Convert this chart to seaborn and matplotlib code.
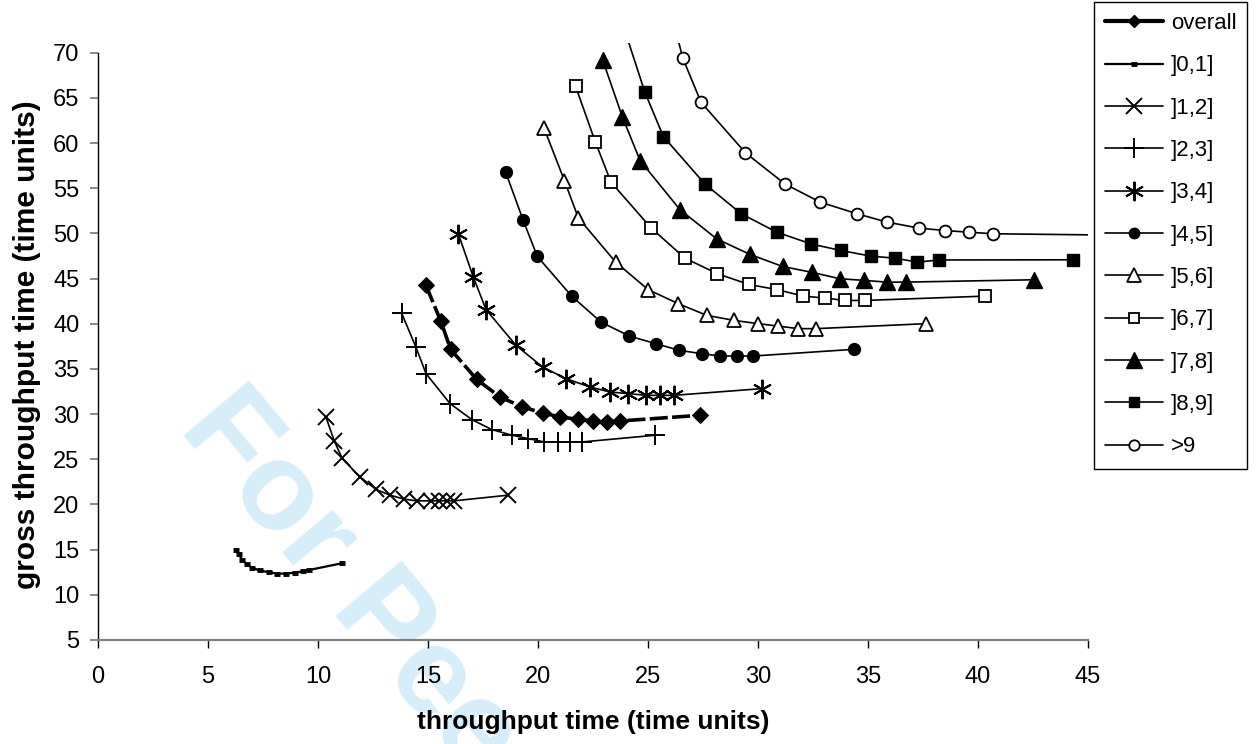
import matplotlib
matplotlib.use("Agg")
import matplotlib.pyplot as plt
from matplotlib.lines import Line2D
import seaborn as sns
import pandas as pd

# ---------------- data ----------------
series_names = ["overall", "]0,1]", "]1,2]", "]2,3]", "]3,4]", "]4,5]",
                "]5,6]", "]6,7]", "]7,8]", "]8,9]", ">9"]

overall_x = [14.91, 15.58, 16.03, 17.21, 18.27, 19.29, 20.21, 21.01, 21.80, 22.51, 23.12, 23.73, 27.36]
overall_y = [44.24, 40.30, 37.17, 33.85, 31.90, 30.79, 30.13, 29.68, 29.43, 29.24, 29.13, 29.24, 29.87]

r01_x = [6.25, 6.40, 6.55, 6.75, 7.00, 7.35, 7.75, 8.15, 8.55, 8.95, 9.30, 9.60, 11.10]
r01_y = [15.00, 14.50, 13.90, 13.40, 13.00, 12.70, 12.50, 12.35, 12.35, 12.45, 12.60, 12.75, 13.50]

r12_x = [10.36, 10.74, 11.10, 11.91, 12.64, 13.27, 13.92, 14.49, 15.12, 15.51, 15.85, 16.18, 18.65]
r12_y = [29.68, 27.03, 25.09, 23.05, 21.66, 21.03, 20.59, 20.40, 20.40, 20.40, 20.40, 20.40, 21.03]

r23_x = [13.80, 14.45, 14.91, 16.00, 16.99, 17.90, 18.83, 19.53, 20.29, 20.92, 21.47, 22.01, 25.32]
r23_y = [41.18, 37.42, 34.48, 31.17, 29.40, 28.29, 27.66, 27.30, 26.92, 26.92, 26.92, 26.92, 27.66]

r34_x = [16.38, 17.06, 17.64, 19.00, 20.21, 21.27, 22.36, 23.27, 24.10, 24.91, 25.55, 26.18, 30.17]
r34_y = [49.96, 45.16, 41.56, 37.61, 35.21, 33.93, 33.00, 32.45, 32.27, 32.08, 32.08, 32.08, 32.82]

r45_x = [18.53, 19.33, 19.97, 21.53, 22.86, 24.15, 25.35, 26.42, 27.44, 28.27, 29.06, 29.79, 34.36]
r45_y = [56.77, 51.43, 47.45, 43.06, 40.19, 38.64, 37.80, 37.06, 36.69, 36.43, 36.43, 36.43, 37.17]

r56_x = [20.27, 21.20, 21.83, 23.53, 25.01, 26.38, 27.67, 28.92, 30.01, 30.92, 31.83, 32.64, 37.64]
r56_y = [61.68, 55.85, 51.73, 46.82, 43.77, 42.22, 40.93, 40.37, 40.01, 39.74, 39.46, 39.46, 40.01]

r67_x = [21.71, 22.60, 23.32, 25.15, 26.68, 28.15, 29.59, 30.88, 32.06, 33.05, 33.95, 34.86, 40.32]
r67_y = [66.27, 60.16, 55.66, 50.58, 47.26, 45.54, 44.35, 43.77, 43.06, 42.84, 42.58, 42.58, 43.06]

r78_x = [22.94, 23.83, 24.64, 26.45, 28.12, 29.64, 31.12, 32.47, 33.73, 34.82, 35.85, 36.73, 42.55]
r78_y = [69.19, 62.93, 58.06, 52.64, 49.40, 47.67, 46.34, 45.68, 44.98, 44.80, 44.61, 44.61, 44.87]

r89_x = [23.90, 24.86, 25.70, 27.59, 29.24, 30.86, 32.42, 33.77, 35.14, 36.23, 37.24, 38.23, 44.33]
r89_y = [72.80, 65.61, 60.71, 55.46, 52.17, 50.13, 48.83, 48.11, 47.48, 47.26, 46.82, 47.06, 47.08]

gt9_x = [26.10, 26.58, 27.41, 29.43, 31.23, 32.84, 34.51, 35.85, 37.33, 38.50, 39.59, 40.70, 46.50]
gt9_y = [74.00, 69.41, 64.51, 58.92, 55.46, 53.45, 52.17, 51.26, 50.58, 50.32, 50.13, 49.96, 49.80]

x_ticks = [0, 5, 10, 15, 20, 25, 30, 35, 40, 45]
y_ticks = [5, 10, 15, 20, 25, 30, 35, 40, 45, 50, 55, 60, 65, 70]

all_x = [overall_x, r01_x, r12_x, r23_x, r34_x, r45_x, r56_x, r67_x, r78_x, r89_x, gt9_x]
all_y = [overall_y, r01_y, r12_y, r23_y, r34_y, r45_y, r56_y, r67_y, r78_y, r89_y, gt9_y]

# ---------------- styles ----------------
asterisk = (6, 2, 0)
styles = {
    "overall": dict(marker="D", ms=8.5, mfc="black", mec="black", lw=2.6, dashes=(5, 1.2)),
    "]0,1]": dict(marker="_", ms=5, mfc="black", mec="black", mew=3.5, lw=1.6),
    "]1,2]": dict(marker="x", ms=12, mfc="black", mec="black", mew=1.4, lw=1.2),
    "]2,3]": dict(marker="+", ms=14, mfc="black", mec="black", mew=1.4, lw=1.2),
    "]3,4]": dict(marker=asterisk, ms=14, mfc="black", mec="black", mew=1.4, lw=1.2),
    "]4,5]": dict(marker="o", ms=8.5, mfc="black", mec="black", mew=1.0, lw=1.2),
    "]5,6]": dict(marker="^", ms=10, mfc="white", mec="black", mew=1.3, lw=1.2),
    "]6,7]": dict(marker="s", ms=8.5, mfc="white", mec="black", mew=1.3, lw=1.2),
    "]7,8]": dict(marker="^", ms=11, mfc="black", mec="black", mew=1.0, lw=1.2),
    "]8,9]": dict(marker="s", ms=8.5, mfc="black", mec="black", mew=1.0, lw=1.2),
    ">9": dict(marker="o", ms=8.5, mfc="white", mec="black", mew=1.3, lw=1.2),
}

sns.set_theme(style="white")
plt.rcParams["font.family"] = ["Liberation Sans", "DejaVu Sans"]
plt.rcParams["text.color"] = "black"
plt.rcParams["axes.labelcolor"] = "black"
plt.rcParams["xtick.color"] = "black"
plt.rcParams["ytick.color"] = "black"

W, H = 1257, 744
fig = plt.figure(figsize=(W / 100, H / 100), dpi=100)
fig.patch.set_facecolor("white")

# axes position (pixel based)
x0_px, x45_px = 98, 1088
y5_px, y70_px = 640, 52.7
ytop = 71.1
ytop_px = y70_px - (ytop - 70) * (y5_px - y70_px) / 65
ax = fig.add_axes([x0_px / W, 1 - y5_px / H, (x45_px - x0_px) / W, (y5_px - ytop_px) / H])
ax.set_facecolor("none")

# watermark
fig.text(178 / W, 1 - 428 / H, "For Peer Review", rotation=-50, rotation_mode="anchor",
         ha="left", va="baseline", fontsize=90, fontweight="bold", color="#d6eefa",
         zorder=-5)

for name, xs, ys in zip(series_names, all_x, all_y):
    st = dict(styles[name])
    dashes = st.pop("dashes", None)
    df = pd.DataFrame({"x": xs, "y": ys})
    sns.lineplot(data=df, x="x", y="y", sort=False, estimator=None, ax=ax,
                 color="black", label=name, legend=False, **st)
    if dashes is not None:
        ax.lines[-1].set_dashes(dashes)

ax.set_xlim(0, 45)
ax.set_ylim(5, ytop)
ax.set_xticks(x_ticks)
ax.set_yticks(y_ticks)
ax.set_xticklabels([str(v) for v in x_ticks])
ax.set_yticklabels([str(v) for v in y_ticks])
ax.grid(False)

for s in ["top", "right"]:
    ax.spines[s].set_visible(False)
ax.spines["left"].set_bounds(5, 70)
ax.spines["left"].set_color("black")
ax.spines["left"].set_linewidth(1.0)
ax.spines["bottom"].set_color("#808080")
ax.spines["bottom"].set_linewidth(1.6)

ax.tick_params(axis="x", which="major", bottom=True, direction="out", length=5.5, width=1.0,
               color="black", labelsize=17, pad=13, labelcolor="black")
ax.tick_params(axis="y", which="major", left=True, direction="out", length=5.5, width=1.3,
               color="#808080", labelsize=17, pad=8, labelcolor="black")

ax.set_xlabel("throughput time (time units)", fontsize=19, fontweight="bold", color="black")
ax.set_ylabel("gross throughput time (time units)", fontsize=21.5, fontweight="bold", color="black")
ax.xaxis.set_label_coords(((418 + 768) / 2 - x0_px) / (x45_px - x0_px), -(722 - y5_px) / (y5_px - ytop_px))
ax.yaxis.set_label_coords(-(x0_px - 27) / (x45_px - x0_px), (y5_px - 345) / (y5_px - ytop_px))
ax.xaxis.label.set_va("center")
ax.yaxis.label.set_va("center")

# legend
handles = []
for name in series_names:
    st = dict(styles[name])
    st.pop("dashes", None)
    if name == "overall":
        st["ms"] = 6
        st["lw"] = 3
    if name in ("]4,5]", ">9", "]6,7]", "]8,9]"):
        st["ms"] = 7.5
    handles.append(Line2D([0], [0], color="black", label=name, **st))

leg = fig.legend(handles=handles, labels=series_names, loc="upper left",
                 bbox_to_anchor=(1094 / W, 1 - 2 / H), borderaxespad=0,
                 fontsize=16, frameon=True, fancybox=False, edgecolor="black",
                 handlelength=2.6, handletextpad=0.35, labelspacing=0.96,
                 borderpad=0.5, framealpha=1)
leg.get_frame().set_linewidth(1.0)
for t in leg.get_texts():
    t.set_color("black")

fig.savefig("out.png", dpi=100, facecolor="white")
